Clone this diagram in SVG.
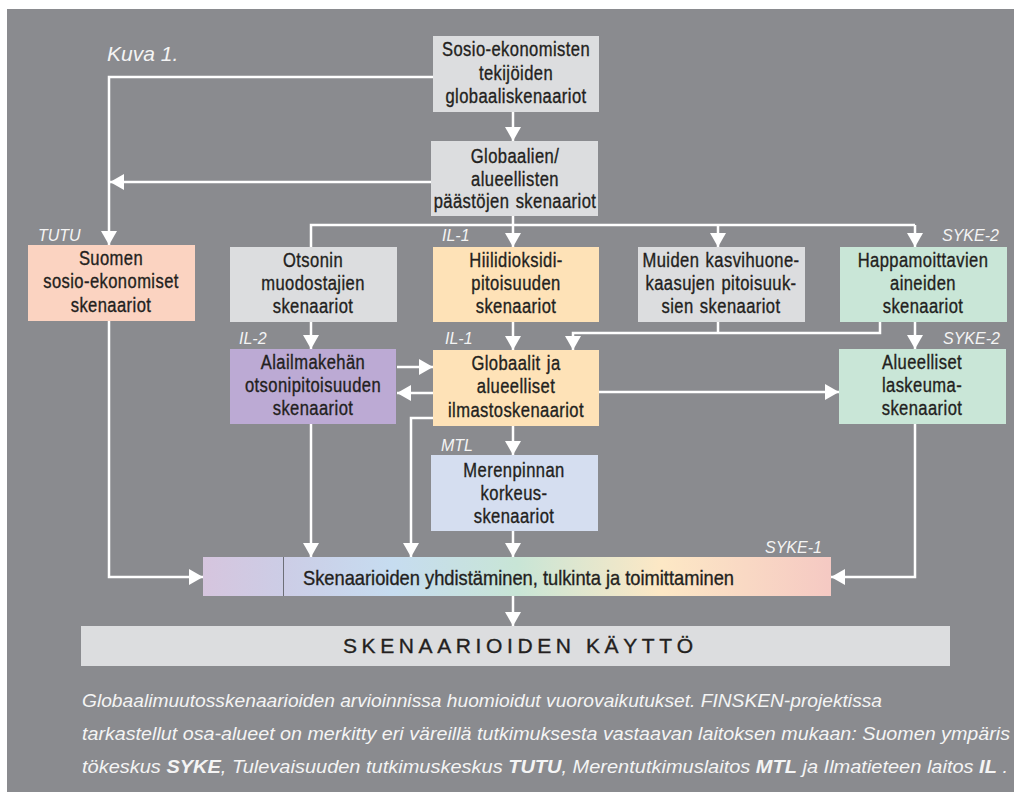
<svg xmlns="http://www.w3.org/2000/svg" width="1014" height="792" viewBox="0 0 1014 792">
<defs>
<marker id="ah" markerUnits="userSpaceOnUse" markerWidth="16" markerHeight="16" refX="14" refY="8" orient="auto">
<path d="M0,0 L14,8 L0,16 z" fill="#ffffff"/>
</marker>
<linearGradient id="mix" x1="0" y1="0" x2="1" y2="0">
<stop offset="0" stop-color="#d6c5de"/>
<stop offset="0.13" stop-color="#cccde6"/>
<stop offset="0.3" stop-color="#c6dcf0"/>
<stop offset="0.5" stop-color="#c8e5d6"/>
<stop offset="0.73" stop-color="#fde8c5"/>
<stop offset="1" stop-color="#f5c9c3"/>
</linearGradient>
<style>
.bx{stroke:none}
.gray{fill:#dcdddf}
.peach{fill:#fbd3c1}
.orange{fill:#fee2b7}
.mint{fill:#c9e6d7}
.purple{fill:#bcaad4}
.blue{fill:#d5def0}
.t{font-family:"Liberation Sans",Arial,sans-serif;font-size:19.5px;letter-spacing:0.5px;word-spacing:1.5px;fill:#231f20;stroke:#231f20;stroke-width:0.35px;text-anchor:middle}
.ts{font-family:"Liberation Sans",Arial,sans-serif;fill:#231f20;stroke:#231f20;stroke-width:0.35px}
.lbl{font-family:"Liberation Sans",Arial,sans-serif;font-style:italic;font-size:16px;fill:#f4f4f4}
.cap{font-family:"Liberation Sans",Arial,sans-serif;font-style:italic;font-size:18px;fill:#f4f4f4}
.cap tspan.b{font-weight:bold}
.ln{fill:none;stroke:#ffffff;stroke-width:2.5}
.ar{marker-end:url(#ah)}
</style>
</defs>
<rect x="0" y="0" width="1014" height="792" fill="#ffffff"/>
<rect x="7" y="9" width="1007" height="783" fill="#8a8b8f"/>

<g id="connectors">
<polyline class="ln ar" points="433,77 109,77 109,245"/>
<polyline class="ln ar" points="431,182 110,182"/>
<polyline class="ln ar" points="513,112 513,141"/>
<polyline class="ln ar" points="513,216 513,247"/>
<polyline class="ln" points="311,247 311,225 915,225"/>
<polyline class="ln ar" points="718,225 718,247"/>
<polyline class="ln ar" points="915,225 915,247"/>
<polyline class="ln ar" points="311,322 311,349"/>
<polyline class="ln ar" points="513,322 513,350"/>
<polyline class="ln" points="718,322 718,333"/>
<polyline class="ln ar" points="880,322 880,333 573,333 573,350"/>
<polyline class="ln ar" points="915,322 915,349"/>
<polyline class="ln ar" points="397,367 433,367"/>
<polyline class="ln ar" points="433,393 397,393"/>
<polyline class="ln ar" points="599,392 839,392"/>
<polyline class="ln ar" points="433,418 411,418 411,557"/>
<polyline class="ln ar" points="311,424 311,557"/>
<polyline class="ln ar" points="513,426 513,455"/>
<polyline class="ln ar" points="513,531 513,557"/>
<polyline class="ln ar" points="109,321 109,577 203,577"/>
<polyline class="ln ar" points="915,424 915,577 831,577"/>
<polyline class="ln ar" points="513,596 513,626"/>
</g>

<g id="n-sosio">
<rect class="bx gray" x="433" y="36" width="166" height="76"/>
<text class="t" transform="translate(516 0) scale(0.85 1)" x="0" y="56">Sosio-ekonomisten<tspan x="0" y="80">tekijöiden</tspan><tspan x="0" y="103">globaaliskenaariot</tspan></text>
</g>
<g id="n-paastot">
<rect class="bx gray" x="431" y="141" width="167" height="75"/>
<text class="t" transform="translate(515 0) scale(0.85 1)" x="0" y="163">Globaalien/<tspan x="0" y="186">alueellisten</tspan><tspan x="0" y="208">päästöjen skenaariot</tspan></text>
</g>
<g id="n-suomen">
<rect class="bx peach" x="28" y="245" width="167" height="76"/>
<text class="t" transform="translate(111 0) scale(0.85 1)" x="0" y="265">Suomen<tspan x="0" y="288">sosio-ekonomiset</tspan><tspan x="0" y="312">skenaariot</tspan></text>
</g>
<g id="n-otsonin">
<rect class="bx gray" x="230" y="247" width="167" height="75"/>
<text class="t" transform="translate(313 0) scale(0.85 1)" x="0" y="267">Otsonin<tspan x="0" y="290">muodostajien</tspan><tspan x="0" y="313">skenaariot</tspan></text>
</g>
<g id="n-hiili">
<rect class="bx orange" x="433" y="247" width="166" height="75"/>
<text class="t" transform="translate(516 0) scale(0.85 1)" x="0" y="267">Hiilidioksidi-<tspan x="0" y="290">pitoisuuden</tspan><tspan x="0" y="313">skenaariot</tspan></text>
</g>
<g id="n-muiden">
<rect class="bx gray" x="638" y="247" width="167" height="75"/>
<text class="t" transform="translate(721 0) scale(0.85 1)" x="0" y="267">Muiden kasvihuone-<tspan x="0" y="290">kaasujen pitoisuuk-</tspan><tspan x="0" y="313">sien skenaariot</tspan></text>
</g>
<g id="n-happam">
<rect class="bx mint" x="840" y="247" width="167" height="75"/>
<text class="t" transform="translate(923 0) scale(0.85 1)" x="0" y="267">Happamoittavien<tspan x="0" y="290">aineiden</tspan><tspan x="0" y="313">skenaariot</tspan></text>
</g>
<g id="n-alailma">
<rect class="bx purple" x="230" y="349" width="166" height="75"/>
<text class="t" transform="translate(313 0) scale(0.85 1)" x="0" y="369">Alailmakehän<tspan x="0" y="392">otsonipitoisuuden</tspan><tspan x="0" y="415">skenaariot</tspan></text>
</g>
<g id="n-ilmasto">
<rect class="bx orange" x="433" y="350" width="166" height="76"/>
<text class="t" transform="translate(516 0) scale(0.85 1)" x="0" y="370">Globaalit ja<tspan x="0" y="393">alueelliset</tspan><tspan x="0" y="417">ilmastoskenaariot</tspan></text>
</g>
<g id="n-laskeuma">
<rect class="bx mint" x="839" y="349" width="167" height="75"/>
<text class="t" transform="translate(922 0) scale(0.85 1)" x="0" y="369">Alueelliset<tspan x="0" y="392">laskeuma-</tspan><tspan x="0" y="415">skenaariot</tspan></text>
</g>
<g id="n-meren">
<rect class="bx blue" x="431" y="455" width="167" height="76"/>
<text class="t" transform="translate(514 0) scale(0.85 1)" x="0" y="477">Merenpinnan<tspan x="0" y="500">korkeus-</tspan><tspan x="0" y="523">skenaariot</tspan></text>
</g>
<g id="n-yhdist">
<rect x="203" y="557" width="628" height="39" fill="url(#mix)"/>
<line x1="283.5" y1="557" x2="283.5" y2="596" stroke="#6d6f78" stroke-width="1"/>
<text class="ts" x="303" y="585" font-size="21" textLength="431" lengthAdjust="spacingAndGlyphs">Skenaarioiden yhdistäminen, tulkinta ja toimittaminen</text>
</g>
<g id="n-kaytto">
<rect class="bx gray" x="81" y="626" width="869" height="40"/>
<text class="ts" x="343" y="653" font-size="21" textLength="350" lengthAdjust="spacing">SKENAARIOIDEN KÄYTTÖ</text>
</g>

<g id="labels">
<text class="lbl" x="107" y="61" style="font-size:21px">Kuva 1.</text>
<text class="lbl" x="38" y="241">TUTU</text>
<text class="lbl" x="442" y="241">IL-1</text>
<text class="lbl" x="942" y="241">SYKE-2</text>
<text class="lbl" x="239" y="344">IL-2</text>
<text class="lbl" x="445" y="344">IL-1</text>
<text class="lbl" x="943" y="344">SYKE-2</text>
<text class="lbl" x="441" y="451">MTL</text>
<text class="lbl" x="765" y="553">SYKE-1</text>
</g>

<g id="caption">
<text class="cap" x="82" y="707" textLength="800" lengthAdjust="spacingAndGlyphs">Globaalimuutosskenaarioiden arvioinnissa huomioidut vuorovaikutukset. FINSKEN-projektissa</text>
<text class="cap" x="82" y="740" textLength="928" lengthAdjust="spacingAndGlyphs">tarkastellut osa-alueet on merkitty eri väreillä tutkimuksesta vastaavan laitoksen mukaan: Suomen ympäris</text>
<text class="cap" x="82" y="773" textLength="926" lengthAdjust="spacingAndGlyphs">tökeskus <tspan class="b">SYKE</tspan>, Tulevaisuuden tutkimuskeskus <tspan class="b">TUTU</tspan>, Merentutkimuslaitos <tspan class="b">MTL</tspan> ja Ilmatieteen laitos <tspan class="b">IL</tspan> .</text>
</g>
</svg>
